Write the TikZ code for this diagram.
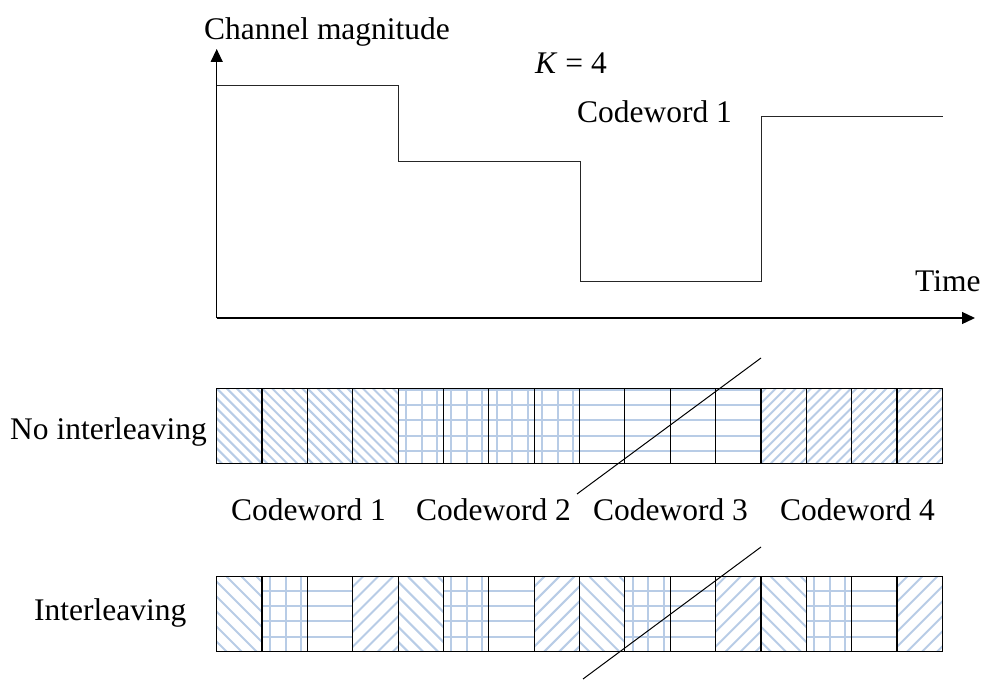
\documentclass[tikz,border=0pt]{standalone}
\usepackage{fontspec}
\setmainfont{Liberation Serif}
\usetikzlibrary{arrows.meta}
\definecolor{hatchblue}{RGB}{184,204,230}
\tikzset{
  lbl/.style={inner sep=0pt, font=\fontsize{31.6}{36}\selectfont},
  axis/.style={line width=1.3, -{Triangle[length=13,width=12]}},
  level/.style={line width=1, black!85},
  cellbox/.style={line width=1.2},
  hatch/.style={hatchblue, line width=2},
  cut/.style={line width=1},
}
\newcommand{\cellw}{45.35}
\newcommand{\cellh}{75}
\newcommand{\hatchcell}[5]% left x, top y, kind (0 nw, 1 grid, 2 horizontal, 3 ne), gap, phase
{\begin{scope}
  \clip (#1,#2) rectangle ++(\cellw,\cellh);
  \ifcase#3
    \foreach \k in {0,...,14} \draw[hatch] ({#1-80+\k*#4},#2) -- ++(80,80);
  \or
    \foreach \k in {0,...,5} \draw[hatch] (#1,{#2+#5+\k*15.3}) -- ++(\cellw,0);
    \foreach \k in {8,23.5,39} \draw[hatch] ({#1+\k},#2) -- ++(0,\cellh);
  \or
    \foreach \k in {0,...,5} \draw[hatch] (#1,{#2+#5+\k*15.3}) -- ++(\cellw,0);
  \or
    \foreach \k in {0,...,14} \draw[hatch] ({#1-80+\k*#4},{#2+\cellh}) -- ++(80,-80);
  \fi
\end{scope}}

\begin{document}
\begin{tikzpicture}[x=1bp,y=-1bp]
  \useasboundingbox (0,0) rectangle (984,681);

  % axes
  \coordinate (origin) at (216.7,318);
  \coordinate (ytop) at (216.7,49);
  \coordinate (xend) at (975,318);
  \draw[axis] (origin) -- (ytop);
  \draw[axis] (origin) -- (xend);
  \node[lbl, anchor=base west] (ylabel) at (204,39.3) {Channel magnitude};
  \node[lbl, anchor=base west] (xlabel) at (915,291.7) {Time};

  % channel levels
  \draw[level] (216.7,85.3) -- (398.7,85.3) -- (398.7,161.5) -- (580,161.5)
     -- (580,281.7) -- (761,281.7) -- (761,116) -- (942.7,116);
  \node[lbl, anchor=base west] (kval) at (535,73.3) {\textit{K} = 4};
  \node[lbl, anchor=base west] (cwtop) at (577,123) {Codeword 1};

  % no interleaving
  \foreach \i in {0,...,15}{
    \pgfmathtruncatemacro\kind{\i/4}
    \hatchcell{216.7+\i*\cellw}{388.3}{\kind}{10}{1.5}
  }
  \draw[cellbox] (216.7,388.3) rectangle ++(16*\cellw,\cellh);
  \foreach \i in {1,...,15} \draw[cellbox] (216.7+\i*\cellw,388.3) -- ++(0,\cellh);
  \node[lbl, anchor=base west] (noil) at (10,439.3) {No interleaving};

  \node[lbl, anchor=base west] (cw1) at (231,520) {Codeword 1};
  \node[lbl, anchor=base west] (cw2) at (416,520) {Codeword 2};
  \node[lbl, anchor=base west] (cw3) at (593,520) {Codeword 3};
  \node[lbl, anchor=base west] (cw4) at (780,520) {Codeword 4};

  % interleaving
  \foreach \i in {0,...,15}{
    \pgfmathtruncatemacro\kind{mod(\i,4)}
    \hatchcell{216.7+\i*\cellw}{576.7}{\kind}{15}{-1.3}
  }
  \draw[cellbox] (216.7,576.7) rectangle ++(16*\cellw,\cellh);
  \foreach \i in {1,...,15} \draw[cellbox] (216.7+\i*\cellw,576.7) -- ++(0,\cellh);
  \node[lbl, anchor=base west] (il) at (34,620.7) {Interleaving};

  % cuts
  \coordinate (cutAlow) at (577,494);
  \coordinate (cutAhigh) at (761,358);
  \coordinate (cutBlow) at (583,679);
  \coordinate (cutBhigh) at (761,547);
  \draw[cut] (cutAlow) -- (cutAhigh);
  \draw[cut] (cutBlow) -- (cutBhigh);
\end{tikzpicture}
\end{document}
